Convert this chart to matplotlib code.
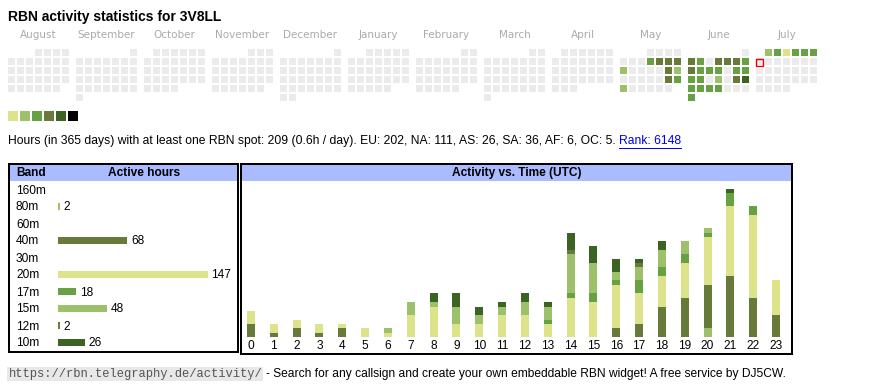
#!/usr/bin/env python3
"""RBN activity widget for 3V8LL, redrawn with matplotlib."""

import calendar
from datetime import date

import matplotlib
matplotlib.use("Agg")
import matplotlib.pyplot as plt
import matplotlib.transforms as mtransforms
from matplotlib.patches import Rectangle

plt.rcParams["font.family"] = ["Liberation Sans", "DejaVu Sans"]

W, H = 870, 390

# ─── Data ────────────────────────────────────────────────────────────────────

callsign = "3V8LL"
months = [(2024, 8), (2024, 9), (2024, 10), (2024, 11), (2024, 12), (2025, 1),
          (2025, 2), (2025, 3), (2025, 4), (2025, 5), (2025, 6), (2025, 7)]
month_names = ["August", "September", "October", "November", "December",
               "January", "February", "March", "April", "May", "June", "July"]
level_colors = ["#dce38a", "#9dc16a", "#68a044", "#677a3a", "#3b6323", "#000000"]

active_days = ["2025-05-08", "2025-05-09", "2025-05-10", "2025-05-11",
               "2025-05-12", "2025-05-17", "2025-05-18", "2025-05-24",
               "2025-05-25", "2025-05-26",
               "2025-06-02", "2025-06-03", "2025-06-05", "2025-06-06",
               "2025-06-07", "2025-06-08", "2025-06-09", "2025-06-10",
               "2025-06-11", "2025-06-12", "2025-06-14", "2025-06-15",
               "2025-06-16", "2025-06-17", "2025-06-19", "2025-06-21",
               "2025-06-22", "2025-06-23", "2025-06-24", "2025-06-25",
               "2025-06-26", "2025-06-30",
               "2025-07-01", "2025-07-02", "2025-07-03", "2025-07-04",
               "2025-07-05", "2025-07-06"]
active_levels = [3, 4, 4, 4,
                 2, 4, 2, 4,
                 3, 2,
                 4, 3, 4, 4,
                 4, 3, 4, 3,
                 3, 3, 3, 3,
                 3, 3, 2, 4,
                 5, 3, 3, 3,
                 3, 3,
                 2, 3, 1, 3,
                 3, 3]
today = "2025-07-07"

stats_text = ("Hours (in 365 days) with at least one RBN spot: 209 (0.6h / day). "
              "EU: 202, NA: 111, AS: 26, SA: 36, AF: 6, OC: 5. ")
rank_text = "Rank: 6148"

bands = ["160m", "80m", "60m", "40m", "30m", "20m", "17m", "15m", "12m", "10m"]
band_hours = [0, 2, 0, 68, 0, 147, 18, 48, 2, 26]
band_colors = ["#000000", "#9dc16a", "#000000", "#677a3a", "#000000",
               "#dce38a", "#68a044", "#9dc16a", "#677a3a", "#3b6323"]

hours = list(range(24))
act_80m = [0, 0, 0, 0, 0, 0, 0, 0, 0, 0, 0, 0, 0, 0, 0, 0, 0, 0, 0, 0, 2, 0, 0, 0]
act_40m = [3, 1, 2, 1, 2, 0, 0, 0, 0, 0, 0, 0, 0, 0, 0, 0, 2, 3, 7, 9, 10, 14, 9, 5]
act_20m = [3, 2, 2, 2, 1, 2, 1, 5, 7, 3, 3, 5, 5, 3, 9, 8, 10, 7, 7, 8, 11, 16, 19, 8]
act_17m = [0, 0, 0, 0, 0, 0, 0, 0, 0, 0, 0, 0, 0, 1, 1, 2, 1, 3, 2, 2, 1, 3, 2, 0]
act_15m = [0, 0, 0, 0, 0, 0, 1, 3, 1, 4, 2, 2, 3, 3, 9, 7, 2, 3, 4, 3, 1, 0, 0, 0]
act_12m = [0, 0, 0, 0, 0, 0, 0, 0, 0, 0, 0, 0, 0, 0, 1, 0, 0, 1, 0, 0, 0, 0, 0, 0]
act_10m = [0, 0, 0, 0, 0, 0, 0, 0, 2, 3, 2, 1, 2, 1, 4, 4, 3, 1, 2, 0, 0, 1, 0, 0]
stack = [(act_80m, "#9dc16a"), (act_40m, "#677a3a"), (act_20m, "#dce38a"),
         (act_17m, "#68a044"), (act_15m, "#9dc16a"), (act_12m, "#677a3a"),
         (act_10m, "#3b6323")]

footer_url = "https://rbn.telegraphy.de/activity/"
footer_text = ("- Search for any callsign and create your own embeddable RBN "
               "widget! A free service by DJ5CW.")

HEADER_BG = "#aabbff"
EMPTY = "#ebebeb"
FS = 8.6


def px_axes(fig, x0, y0, x1, y1):
    """Axes placed by pixel box (top-left origin)."""
    ax = fig.add_axes([x0 / W, 1 - y1 / H, (x1 - x0) / W, (y1 - y0) / H])
    ax.set_facecolor("none")
    for s in ax.spines.values():
        s.set_visible(False)
    return ax


def main():
    fig = plt.figure(figsize=(W / 100, H / 100), dpi=100)
    base = fig.add_axes([0, 0, 1, 1])
    base.set_xlim(0, W)
    base.set_ylim(H, 0)
    base.axis("off")
    r = fig.canvas.get_renderer()

    base.text(8, 17, f"RBN activity statistics for {callsign}", fontsize=10,
              fontweight="bold", va="center", ha="left")

    # ─── Calendar ────────────────────────────────────────────────────────────
    level_of = dict(zip(active_days, active_levels))
    for k, (yr, mo) in enumerate(months):
        x0 = 8 + 68 * k
        base.text(x0 + 30.5, 35, month_names[k], ha="center", va="center",
                  color="#aaaaaa", fontsize=7.5, family="DejaVu Sans")
        first_wd = date(yr, mo, 1).weekday()
        ndays = calendar.monthrange(yr, mo)[1]
        for d in range(1, ndays + 1):
            pos = first_wd + d - 1
            col, row = pos % 7, pos // 7
            key = f"{yr}-{mo:02d}-{d:02d}"
            lvl = level_of.get(key, 0)
            fc = level_colors[lvl - 1] if lvl else EMPTY
            base.add_patch(Rectangle((x0 + 9 * col, 49 + 9 * row), 7, 7,
                                     facecolor=fc, edgecolor="none"))
            if key == today:
                base.add_patch(Rectangle((x0 + 9 * col + 0.5, 49 + 9 * row + 0.5),
                                         7, 7, facecolor="none",
                                         edgecolor="#ee0000", lw=1.0))

    for i, c in enumerate(level_colors):
        base.add_patch(Rectangle((8 + 12 * i, 111), 10, 10, facecolor=c,
                                 edgecolor="none"))

    # ─── Summary line ────────────────────────────────────────────────────────
    t = base.text(8, 141, stats_text, fontsize=8.75, va="center", ha="left")
    x_end = t.get_window_extent(r).x1
    lk = base.text(x_end, 141, rank_text, fontsize=8.75, va="center", ha="left",
                   color="#0000ee")
    bb = lk.get_window_extent(r)
    base.plot([bb.x0, bb.x1], [147.5, 147.5], color="#0000ee", lw=0.7)

    # ─── Table headers ───────────────────────────────────────────────────────
    base.add_patch(Rectangle((10, 165), 227, 16, facecolor=HEADER_BG,
                             edgecolor="none"))
    base.add_patch(Rectangle((242, 165), 549, 16, facecolor=HEADER_BG,
                             edgecolor="none"))
    base.text(16, 173, "Band", fontsize=FS, fontweight="bold", va="center")
    base.text(144.5, 173, "Active hours", fontsize=FS, fontweight="bold",
              va="center", ha="center")
    base.text(516.5, 173, "Activity vs. Time (UTC)", fontsize=FS,
              fontweight="bold", va="center", ha="center")

    # ─── Band table ──────────────────────────────────────────────────────────
    axb = px_axes(fig, 58, 180.5, 230, 350.5)
    px_per_h = 150 / 147
    axb.set_xlim(0, 172 / px_per_h)
    axb.set_ylim(len(bands) - 0.5, -0.5)
    rows = list(range(len(bands)))
    axb.barh(rows, band_hours, height=7 / 17, color=band_colors)
    for i, v in enumerate(band_hours):
        if v:
            axb.text(v + 3.5 / px_per_h, i, str(v), va="center_baseline",
                     ha="left", fontsize=FS)
    axb.set_xticks([])
    axb.set_yticks([])
    lab_tr = mtransforms.blended_transform_factory(base.transData, axb.transData)
    for i, b in enumerate(bands):
        axb.text(16, i, b, transform=lab_tr, va="center_baseline", ha="left",
                 fontsize=FS, clip_on=False)

    # ─── Activity vs time ────────────────────────────────────────────────────
    axa = px_axes(fig, 242, 181, 791, 337)
    pitch = (776 - 251) / 23
    unit = 148 / 34
    axa.set_xlim(-(251 - 242) / pitch, 23 + (791 - 776) / pitch)
    axa.set_ylim(0, 156 / unit)
    bottom = [0] * 24
    for vals, c in stack:
        axa.bar(hours, vals, bottom=bottom, width=8 / pitch, color=c,
                linewidth=0)
        bottom = [b + v for b, v in zip(bottom, vals)]
    axa.set_yticks([])
    axa.set_xticks(hours)
    axa.set_xticklabels([str(h) for h in hours], fontsize=FS)
    axa.tick_params(axis="x", length=0, pad=2.5)

    # borders
    base.add_patch(Rectangle((9, 164), 229, 188, facecolor="none",
                             edgecolor="black", lw=1.44, zorder=5))
    base.add_patch(Rectangle((241, 164), 551, 190, facecolor="none",
                             edgecolor="black", lw=1.44, zorder=5))

    # ─── Footer ──────────────────────────────────────────────────────────────
    u = base.text(8.5, 374, footer_url, family="Liberation Mono", fontsize=8.7,
                  color="#555555", va="center", ha="left",
                  bbox=dict(facecolor="#e8e8e8", edgecolor="none", pad=0.8))
    ux = u.get_window_extent(r).x1
    base.text(ux + 3.5, 374, footer_text, fontsize=8.65, va="center", ha="left")

    fig.savefig("out.png", dpi=100)
    plt.close(fig)


if __name__ == "__main__":
    main()
